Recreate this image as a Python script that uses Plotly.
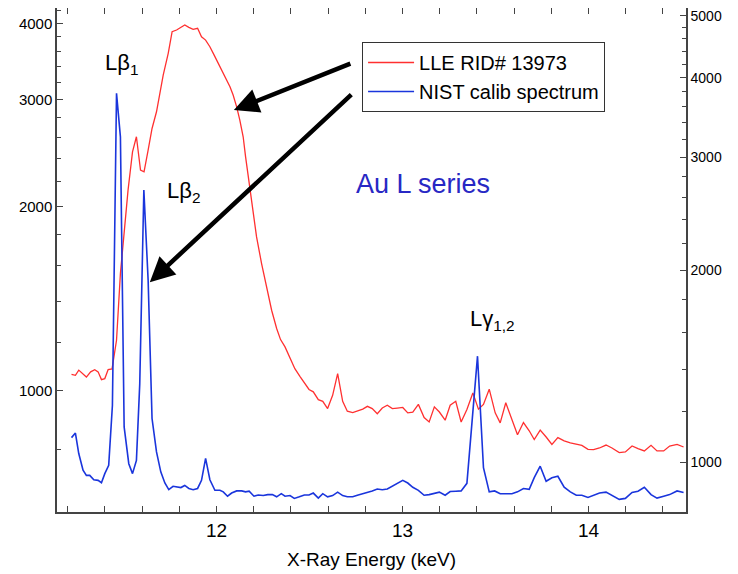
import plotly.graph_objects as go

# ---- data ----
energy_lle = [11.220, 11.241, 11.259, 11.277, 11.300, 11.323, 11.345, 11.363, 11.381, 11.399,
              11.417, 11.438, 11.462, 11.483, 11.503, 11.524, 11.548, 11.569, 11.591, 11.610,
              11.632, 11.653, 11.677, 11.695, 11.713, 11.740, 11.761, 11.785, 11.808, 11.829,
              11.851, 11.874, 11.898, 11.919, 11.941, 11.964, 11.987, 12.009, 12.030, 12.048,
              12.072, 12.089, 12.108, 12.125, 12.143, 12.156, 12.188, 12.215, 12.242, 12.269,
              12.296, 12.323, 12.344, 12.368, 12.395, 12.421, 12.448, 12.475, 12.497, 12.520,
              12.547, 12.571, 12.597, 12.624, 12.651, 12.678, 12.703, 12.732, 12.757, 12.786,
              12.811, 12.837, 12.864, 12.891, 12.918, 12.945, 12.972, 13.001, 13.028, 13.055,
              13.085, 13.116, 13.143, 13.171, 13.198, 13.229, 13.256, 13.286, 13.315, 13.346,
              13.378, 13.408, 13.435, 13.466, 13.498, 13.525, 13.555, 13.588, 13.618, 13.650,
              13.681, 13.708, 13.740, 13.772, 13.803, 13.835, 13.869, 13.902, 13.934, 13.964,
              13.997, 14.027, 14.059, 14.094, 14.126, 14.165, 14.198, 14.234, 14.266, 14.300,
              14.336, 14.368, 14.404, 14.436, 14.476, 14.511]
counts_lle = [1062, 1058, 1079, 1065, 1051, 1072, 1081, 1072, 1041, 1045,
              1081, 1084, 1208, 1555, 1808, 2130, 2462, 2606, 2297, 2283,
              2477, 2689, 2864, 3070, 3290, 3572, 3877, 3901, 3941, 3975,
              3941, 3912, 3926, 3803, 3755, 3662, 3548, 3440, 3332, 3249,
              3148, 3051, 2918, 2776, 2606, 2416, 2051, 1785, 1614, 1469,
              1353, 1263, 1211, 1178, 1127, 1085, 1054, 1026, 1003, 994,
              965, 959, 933, 981, 1065, 959, 924, 919, 924, 931,
              941, 933, 915, 935, 945, 933, 935, 937, 918, 921,
              948, 902, 887, 939, 921, 893, 945, 959, 887, 930,
              990, 931, 948, 1004, 918, 884, 954, 893, 845, 885,
              858, 830, 860, 838, 815, 836, 826, 820, 817, 812,
              800, 799, 804, 813, 804, 790, 792, 810, 802, 795,
              812, 795, 795, 810, 815, 807]

energy_nist = [11.220, 11.241, 11.259, 11.282, 11.300, 11.318, 11.340, 11.363, 11.381, 11.399,
               11.420, 11.440, 11.462, 11.483, 11.503, 11.528, 11.548, 11.569, 11.587, 11.609,
               11.632, 11.653, 11.677, 11.700, 11.722, 11.743, 11.766, 11.788, 11.808, 11.829,
               11.851, 11.874, 11.898, 11.919, 11.941, 11.964, 11.991, 12.018, 12.036, 12.059,
               12.081, 12.108, 12.135, 12.156, 12.175, 12.201, 12.224, 12.251, 12.275, 12.300,
               12.323, 12.348, 12.368, 12.395, 12.418, 12.445, 12.472, 12.497, 12.520, 12.547,
               12.571, 12.597, 12.624, 12.651, 12.678, 12.703, 12.732, 12.757, 12.786, 12.811,
               12.837, 12.864, 12.891, 12.918, 12.945, 12.972, 13.001, 13.028, 13.055, 13.085,
               13.116, 13.143, 13.171, 13.198, 13.229, 13.256, 13.286, 13.315, 13.346, 13.373,
               13.403, 13.435, 13.466, 13.495, 13.525, 13.555, 13.588, 13.618, 13.650, 13.681,
               13.708, 13.740, 13.772, 13.803, 13.835, 13.869, 13.902, 13.934, 13.964, 13.997,
               14.027, 14.059, 14.094, 14.126, 14.165, 14.198, 14.234, 14.266, 14.300, 14.336,
               14.368, 14.404, 14.436, 14.476, 14.511]
counts_nist = [1094, 1112, 1033, 973, 955, 955, 940, 938, 930, 961,
               990, 1229, 3780, 3232, 1137, 996, 961, 1008, 1329, 2668,
               1929, 1172, 1039, 967, 929, 907, 918, 915, 914, 921,
               911, 907, 911, 938, 1015, 940, 905, 905, 900, 886,
               896, 903, 903, 900, 902, 886, 890, 888, 891, 891,
               884, 894, 886, 888, 879, 884, 890, 890, 896, 880,
               894, 884, 888, 899, 888, 884, 884, 889, 894, 896,
               903, 909, 907, 909, 918, 929, 938, 929, 915, 905,
               889, 891, 894, 899, 889, 901, 902, 903, 928, 1168,
               1467, 982, 900, 903, 894, 894, 894, 900, 911, 908,
               947, 987, 935, 947, 952, 915, 900, 889, 889, 882,
               889, 896, 899, 889, 876, 879, 898, 902, 915, 891,
               880, 886, 891, 903, 898]

series_names = ["LLE RID# 13973", "NIST calib spectrum"]
x_tick_vals = [12, 13, 14]
x_tick_text = ["12", "13", "14"]
left_tick_vals = [1000, 2000, 3000, 4000]
left_tick_text = ["1000", "2000", "3000", "4000"]
left_minor_vals = [800, 1200, 1400, 1600, 1800, 2200, 2400, 2600, 2800,
                   3200, 3400, 3600, 3800, 4200]
right_tick_vals = [1000, 2000, 3000, 4000, 5000]
right_tick_text = ["1000", "2000", "3000", "4000", "5000"]
right_minor_vals = [1200, 1400, 1600, 1800, 2200, 2400, 2600, 2800,
                    3200, 3400, 3600, 3800, 4200, 4400, 4600, 4800]

FONT = "Arial, Liberation Sans, Helvetica, sans-serif"
AXC = "#444444"

fig = go.Figure()
fig.add_trace(go.Scatter(x=energy_lle, y=counts_lle, mode="lines", name=series_names[0],
                         line=dict(color="#ff3030", width=1.3), yaxis="y"))
fig.add_trace(go.Scatter(x=energy_nist, y=counts_nist, mode="lines", name=series_names[1],
                         line=dict(color="#1a35dc", width=1.6), yaxis="y2"))

# page has an 8px body margin; figure is sized to fit the 738x574 window
fig.update_layout(
    width=730, height=566,
    margin=dict(l=49, r=52, t=0, b=62, autoexpand=False),
    paper_bgcolor="white", plot_bgcolor="white",
    font=dict(family=FONT, color="black"),
    showlegend=True,
    legend=dict(x=0.485, y=0.9325, xanchor="left", yanchor="top",
                bgcolor="white", bordercolor="#333333", borderwidth=1,
                itemwidth=46,
                font=dict(size=20, family=FONT), tracegroupgap=0),
    xaxis=dict(range=[11.142, 14.524], showgrid=False, zeroline=False,
               showline=True, linecolor=AXC, linewidth=1.5, mirror="ticks",
               ticks="inside", ticklen=6, tickcolor=AXC, tickwidth=1,
               tickmode="array", tickvals=x_tick_vals, ticktext=x_tick_text,
               tickfont=dict(size=19),
               minor=dict(dtick=0.2, tick0=11.2, ticks="inside", ticklen=6,
                          tickcolor=AXC, showgrid=False),
               title=dict(text="X-Ray Energy (keV)", font=dict(size=19), standoff=13)),
    yaxis=dict(type="log", range=[2.8002, 3.6273], showgrid=False, zeroline=False,
               showline=True, linecolor=AXC, linewidth=1.5,
               ticks="inside", ticklen=6, tickcolor=AXC,
               tickmode="array", tickvals=left_tick_vals, ticktext=left_tick_text,
               tickfont=dict(size=15), ticklabeloverflow="allow",
               minor=dict(tickmode="array", tickvals=left_minor_vals, ticks="inside",
                          ticklen=4, tickcolor=AXC, showgrid=False)),
    yaxis2=dict(type="log", range=[2.9227, 3.711], overlaying="y", side="right",
                showgrid=False, zeroline=False,
                showline=True, linecolor=AXC, linewidth=1.5,
                ticks="inside", ticklen=6, tickcolor=AXC,
                tickmode="array", tickvals=right_tick_vals, ticktext=right_tick_text,
                tickfont=dict(size=14), ticklabeloverflow="allow",
                minor=dict(tickmode="array", tickvals=right_minor_vals, ticks="inside",
                           ticklen=4, tickcolor=AXC, showgrid=False)),
)

# Peak labels (left edge, vertical centre in plot-area fractions)
labels = [
    ("Lβ<sub>1</sub>", 0.0727, 0.888),
    ("Lβ<sub>2</sub>", 0.1714, 0.634),
    ("Lγ<sub>1,2</sub>", 0.6535, 0.381),
]
for txt, px, py in labels:
    fig.add_annotation(text=txt, xref="paper", yref="paper", x=px, y=py,
                       xanchor="left", yanchor="middle",
                       showarrow=False, font=dict(size=22, family=FONT, color="black"))

fig.add_annotation(text="Au L series", xref="paper", yref="paper", x=0.5819, y=0.6855,
                   showarrow=False, font=dict(size=27, family=FONT, color="#2828c4"))

# Arrows from legend to curves
fig.add_annotation(text="", x=12.093, y=3.4598, xref="x", yref="y",
                   ax=118, ay=-47, showarrow=True, arrowhead=2, arrowsize=1.1,
                   arrowwidth=4.5, arrowcolor="black", standoff=0)
fig.add_annotation(text="", x=11.641, y=3.1773, xref="x", yref="y",
                   ax=203, ay=-189, showarrow=True, arrowhead=2, arrowsize=1.1,
                   arrowwidth=4.5, arrowcolor="black", standoff=0)

fig.write_html("out.html")
